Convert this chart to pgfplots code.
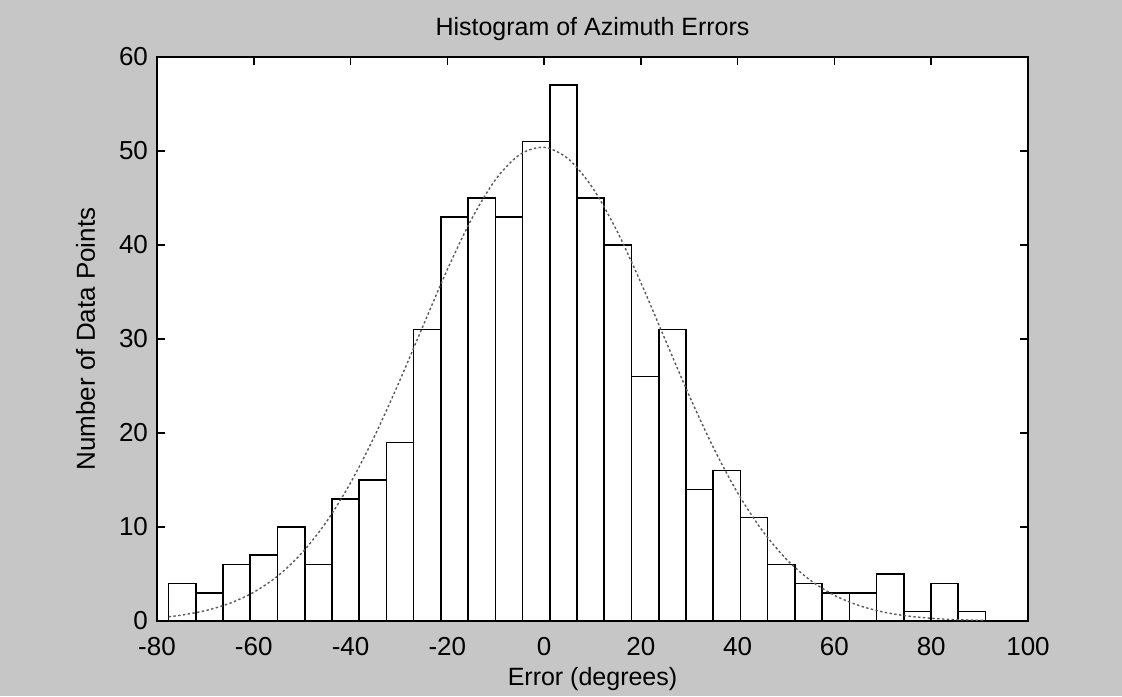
\documentclass[border=0pt]{standalone}
\usepackage{pgfplots}
\pgfplotsset{compat=1.18}
\usepackage{fontspec}
\setmainfont{Liberation Sans}
\definecolor{bggray}{RGB}{198,198,198}
\definecolor{curvegray}{RGB}{90,90,90}
\begin{document}
\begin{tikzpicture}
\useasboundingbox (-78.5pt,-37.5pt) rectangle (482.5pt,310.5pt);
\fill[bggray] (-78.5pt,-37.5pt) rectangle (482.5pt,310.5pt);
\begin{axis}[
  at={(0,0)}, anchor=south west,
  scale only axis, width=435.5pt, height=282pt,
  xmin=-80, xmax=100, ymin=0, ymax=60,
  xtick={-80,-60,...,100}, ytick={0,10,...,60},
  tick align=inside, major tick length=4pt,
  axis background/.style={fill=white},
  axis line style={line width=0.8pt},
  every tick/.style={black, line width=0.8pt},
  /pgf/number format/assume math mode=true,
  ticklabel style={font=\fontsize{13}{15}\selectfont},
  xticklabel style={yshift=-4.5pt},
  yticklabel style={xshift=-1pt},
  every axis title shift=0pt,
  title={Histogram of Azimuth Errors},
  title style={font=\fontsize{12.5}{14}\selectfont, at={(axis description cs:0.5,1)}, anchor=base, yshift=11pt},
  xlabel={Error (degrees)},
  xlabel style={font=\fontsize{12.5}{14}\selectfont, at={(axis description cs:0.5,-0.1152)}, anchor=base},
  ylabel={Number of Data Points},
  ylabel style={font=\fontsize{13}{15}\selectfont, at={(axis description cs:-0.0712,0.5)}, anchor=base},
]
\addplot[ybar interval, fill=white, draw=black, line width=0.8pt] coordinates {
(-77.60,4) (-71.97,3) (-66.35,6) (-60.72,7) (-55.09,10) (-49.47,6)
(-43.84,13) (-38.21,15) (-32.58,19) (-26.96,31) (-21.33,43) (-15.70,45)
(-10.08,43) (-4.45,51) (1.18,57) (6.81,45) (12.43,40) (18.06,26)
(23.69,31) (29.31,14) (34.94,16) (40.57,11) (46.19,6) (51.82,4)
(57.45,3) (63.08,3) (68.70,5) (74.33,1) (79.96,4) (85.58,1) (91.21,1)
};
\addplot[smooth, curvegray, line width=0.7pt, dash pattern=on 1.2pt off 1.2pt] coordinates {
(-77.6,0.456) (-75,0.623) (-70,1.103) (-65,1.876) (-60,3.065) (-55,4.812)
(-50,7.27) (-45,10.54) (-40,14.70) (-35,19.71) (-30,25.38) (-25,31.42)
(-20,37.39) (-15,42.75) (-10,46.99) (-5,49.63) (0,50.39) (5,49.16)
(10,46.10) (15,41.55) (20,35.99) (25,29.96) (30,23.97) (35,18.43)
(40,13.62) (45,9.68) (50,6.61) (55,4.34) (60,2.73) (65,1.66)
(70,0.965) (75,0.540) (80,0.290) (85,0.150) (90,0.075) (91.2,0.063)
};
\end{axis}
\end{tikzpicture}
\end{document}
